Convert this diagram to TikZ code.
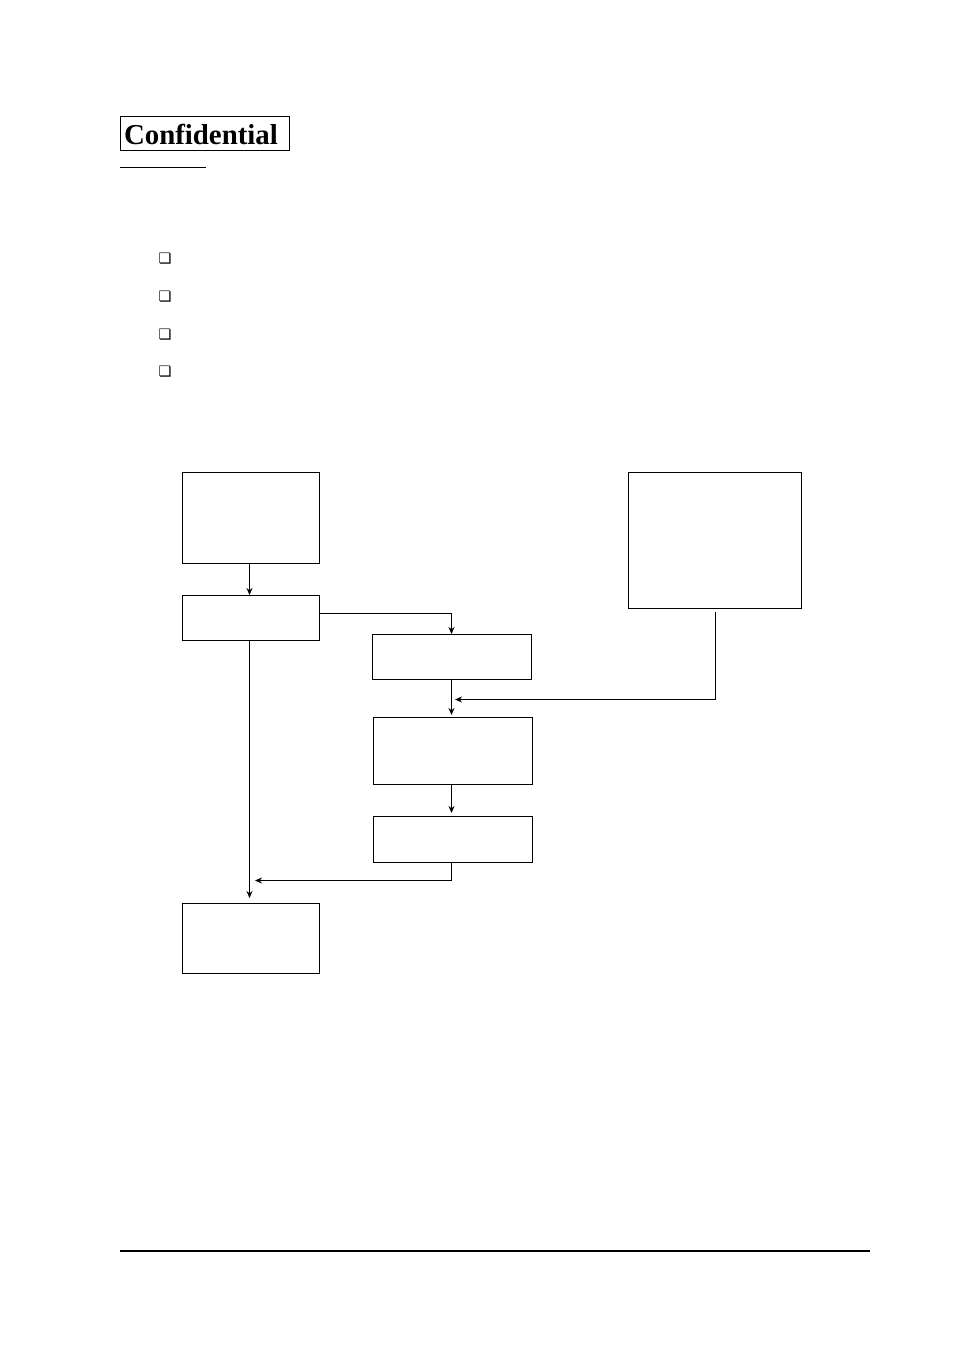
\documentclass[tikz,border=0pt]{standalone}
\usepackage{fontspec}
\setmainfont{Liberation Serif}
\newfontfamily\symfont{DejaVu Sans}
\usetikzlibrary{arrows.meta,positioning}
\newcommand*{\px}{0.624pt}

\begin{document}
\begin{tikzpicture}[x=0.624pt,y=-0.624pt,line width=0.624pt]
\tikzstyle box=[draw,inner sep=0pt,line width=0.624pt]
\tikzstyle link=[-{Stealth[length=7*\px,width=6*\px]},line width=0.624pt]
\tikzstyle tick=[font=\symfont\fontsize{9}{9}\selectfont,inner sep=0pt]
 \useasboundingbox (0,0) rectangle (954,1351);
 % header
 \node (conf) [draw,anchor=north west,inner xsep=4*\px,inner ysep=0pt,
   text width=161*\px,minimum height=34*\px,align=left,
   font=\bfseries\fontsize{18}{18}\selectfont] at (119.5,116.5) {Confidential};
 \draw (120,167.5) -- (206,167.5);
 \node[tick] (t1) at (165,259) {❏};
 \node[tick] (t2) at (165,297) {❏};
 \node[tick] (t3) at (165,335) {❏};
 \node[tick] (t4) at (165,372) {❏};
 % flow
 \node[box,minimum width=137*\px,minimum height=91*\px] (start) at (251,518) {};
 \node[box,minimum width=137*\px,minimum height=45*\px] (split) at (251,618) {};
 \node[box,minimum width=159*\px,minimum height=45*\px] (prep) at (452,657) {};
 \node[box,minimum width=159*\px,minimum height=67*\px] (proc) at (453,751) {};
 \node[box,minimum width=159*\px,minimum height=46*\px] (check) at (453,839.5) {};
 \node[box,minimum width=137*\px,minimum height=70*\px] (done) at (251,938.5) {};
 \node[box,minimum width=173*\px,minimum height=136*\px] (side) at (715,540.5) {};
 \coordinate (colL) at (249.5,0);
 \coordinate (colM) at (451.5,0);
 \coordinate (sidein) at (455,699.5);
 \coordinate (backin) at (255,880.5);
 \draw[link] (start.south -| colL) -- (split.north -| colL);
 \draw[link] ([yshift=4.5*\px]split.east) -| (prep.north -| colM);
 \draw[link] (split.south -| colL) -- ([yshift=5*\px]done.north -| colL);
 \draw[link] (prep.south -| colM) -- ([yshift=2*\px]proc.north -| colM);
 \draw[link] ([xshift=0.5*\px,yshift=-3*\px]side.south) |- (sidein);
 \draw[link] (proc.south -| colM) -- ([yshift=3*\px]check.north -| colM);
 \draw[link] (check.south -| colM) |- (backin);
 % footer
 \draw[line width=1.25pt] (120,1251) -- (870,1251);
\end{tikzpicture}
\end{document}
